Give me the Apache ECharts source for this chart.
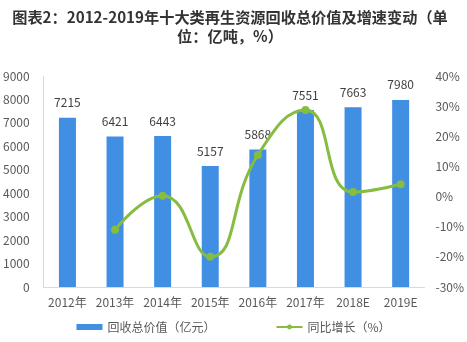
<!DOCTYPE html>
<html><head><meta charset="utf-8">
<script src="https://cdn.jsdelivr.net/npm/echarts@6/dist/echarts.min.js"></script>
<style>html,body{margin:0;padding:0;background:#fff}#c{width:467px;height:342px}</style>
</head><body><div id="c"></div>
<script>
const categories = ['2012年','2013年','2014年','2015年','2016年','2017年','2018E','2019E'];
const valueSeries = [7215, 6421, 6443, 5157, 5868, 7551, 7663, 7980];
const growthSeries = [null, -11.0, 0.3, -20.0, 13.8, 28.7, 1.5, 4.1];
const titleLine1 = '图表2：2012-2019年十大类再生资源回收总价值及增速变动（单';
const titleLine2 = '位：亿吨，%）';
const barName = '回收总价值（亿元）';
const lineName = '同比增长（%）';

const titleFont = { fontFamily: 'Noto Sans CJK SC', fontSize: 15.2, fontWeight: 'bold', color: '#333' };
const chart = echarts.init(document.getElementById('c'));
chart.setOption({
  animation: false,
  title: [
    { text: titleLine1, left: 225, top: 5, textAlign: 'center', textStyle: titleFont },
    { text: titleLine2, left: 225, top: 24, textAlign: 'center', textStyle: titleFont }
  ],
  legend: {
    bottom: 4, left: 'center', itemGap: 60, itemWidth: 26, itemHeight: 6,
    textStyle: { fontFamily: 'Noto Sans CJK SC', fontSize: 12, color: '#595959' },
    data: [{ name: barName, icon: 'rect' }, { name: lineName }]
  },
  grid: { left: 36, right: 41, top: 76, bottom: 55 },
  xAxis: {
    type: 'category', data: categories,
    axisLine: { lineStyle: { color: '#d9d9d9' } }, axisTick: { show: false },
    axisLabel: { interval: 0, fontFamily: 'Noto Sans CJK SC', fontSize: 12, color: '#595959', margin: 9 }
  },
  yAxis: [{
    type: 'value', min: 0, max: 9000, interval: 1000,
    axisLine: { show: true, lineStyle: { color: '#d9d9d9' } }, axisTick: { show: false },
    splitLine: { show: false },
    axisLabel: { fontFamily: 'Noto Sans CJK SC', fontSize: 12, color: '#595959', margin: 14, formatter: v => String(v) }
  }, {
    type: 'value', min: -30, max: 40, interval: 10,
    axisLine: { show: false }, axisTick: { show: false }, splitLine: { show: false },
    axisLabel: { fontFamily: 'Noto Sans CJK SC', fontSize: 12, color: '#595959', margin: 11, formatter: '{value}%' }
  }],
  series: [{
    name: barName, type: 'bar', data: valueSeries, barWidth: 17,
    itemStyle: { color: '#418fe2' },
    label: { show: true, position: 'top', distance: 9, fontFamily: 'Noto Sans CJK SC', fontSize: 12, color: '#404040' }
  }, {
    name: lineName, type: 'line', yAxisIndex: 1, data: growthSeries, smooth: 0.5,
    symbol: 'circle', symbolSize: 8, connectNulls: false,
    lineStyle: { color: '#86bc40', width: 3 }, itemStyle: { color: '#86bc40' }
  }]
});
</script></body></html>
